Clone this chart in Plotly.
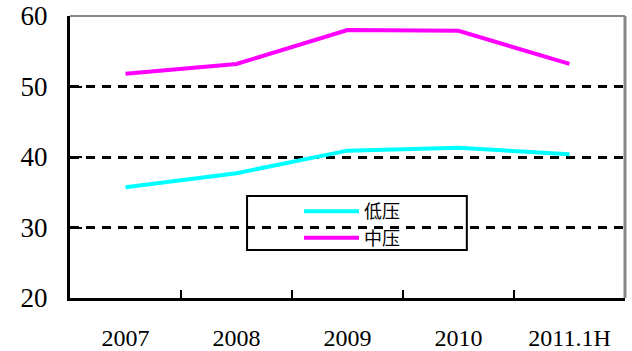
import plotly.graph_objects as go

categories = ["2007", "2008", "2009", "2010", "2011.1H"]
low_voltage = [35.7, 37.7, 40.9, 41.3, 40.4]
mid_voltage = [51.8, 53.2, 58.0, 57.9, 53.2]
series_names = ["低压", "中压"]
y_ticks = [20, 30, 40, 50, 60]

fig = go.Figure()
fig.add_trace(go.Scatter(x=categories, y=low_voltage, name=series_names[0], mode="lines",
                         line=dict(color="#00FFFF", width=4)))
fig.add_trace(go.Scatter(x=categories, y=mid_voltage, name=series_names[1], mode="lines",
                         line=dict(color="#FF00FF", width=4)))

fig.update_layout(
    width=632, height=351,
    margin=dict(l=70, r=7, t=16, b=53, autoexpand=False),
    paper_bgcolor="white", plot_bgcolor="white",
    showlegend=True,
    legend=dict(x=0.4126, y=0.372, xanchor="left", yanchor="top",
                bgcolor="rgba(0,0,0,0)", borderwidth=0,
                font=dict(family="Noto Sans CJK SC", size=18, color="black"),
                itemwidth=55, tracegroupgap=0),
    xaxis=dict(type="category", tickson="boundaries", ticks="inside", ticklen=8,
               tickwidth=2, tickcolor="black", showline=True, linecolor="black",
               linewidth=3, showgrid=False, range=[-0.5, 4.5], automargin=False,
               tickfont=dict(family="Liberation Serif", size=24, color="black"),
               ticklabelstandoff=16),
    yaxis=dict(range=[20, 60], tickvals=y_ticks, ticks="inside", ticklen=12,
               tickwidth=2, tickcolor="black", showline=True, linecolor="black",
               linewidth=3, showgrid=True, gridcolor="black", gridwidth=3,
               griddash="9px,7px", zeroline=False, automargin=False,
               tickfont=dict(family="Liberation Serif", size=27, color="black"),
               ticklabelstandoff=14),
    shapes=[
        dict(type="line", xref="paper", yref="paper", x0=0, x1=1, y0=1, y1=1,
             line=dict(color="#888888", width=2)),
        dict(type="line", xref="paper", yref="paper", x0=1, x1=1, y0=0, y1=1,
             line=dict(color="#888888", width=3)),
        dict(type="rect", xref="paper", yref="paper", x0=0.319, x1=0.715, y0=0.17, y1=0.362,
             line=dict(color="black", width=2), fillcolor="rgba(0,0,0,0)", layer="above"),
    ],
)

fig.write_html("out.html", config={"displayModeBar": False},
               post_script="document.body.style.margin='0';")
